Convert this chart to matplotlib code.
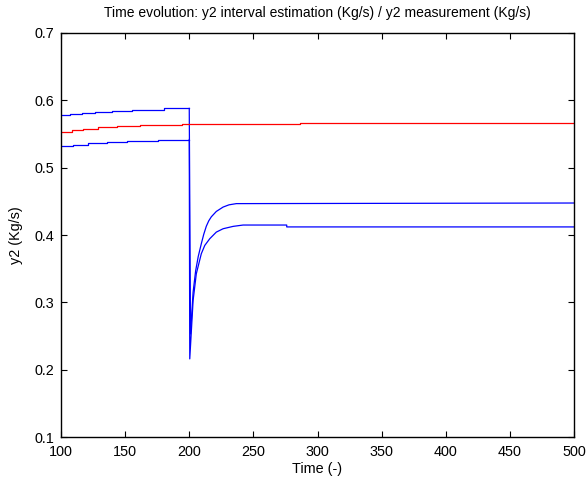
import numpy as np
import matplotlib
matplotlib.use("Agg")
import matplotlib.pyplot as plt

plt.rcParams['font.family'] = ['Liberation Sans', 'DejaVu Sans']

# upper bound of the interval estimation (before the drop: stepped)
upper_step_t = [100, 107, 116, 126.5, 139.5, 155, 180, 200]
upper_step_v = [0.5775, 0.579, 0.581, 0.583, 0.584, 0.586, 0.588, 0.588]
# after the drop at t=200
upper_t = [200, 201, 203, 205, 207, 209.4, 211.3, 213.3, 215.2, 217.2, 221.1, 226.4, 231, 236.7, 500]
upper_v = [0.588, 0.253, 0.315, 0.347, 0.368, 0.387, 0.401, 0.413, 0.421, 0.427, 0.435, 0.4415,
           0.4448, 0.4466, 0.4475]

# lower bound
lower_step_t = [100, 109.6, 121.3, 135.6, 151.2, 175.9, 200]
lower_step_v = [0.5318, 0.5344, 0.5359, 0.5378, 0.5397, 0.5418, 0.5418]
lower_t = [200, 200.4, 203, 205.5, 209.4, 212.1, 216, 221.1, 226.4, 234.2, 242, 276, 276, 500]
lower_v = [0.5418, 0.216, 0.3027, 0.3424, 0.3722, 0.3845, 0.3945, 0.4043, 0.4093, 0.4128,
           0.4148, 0.4148, 0.412, 0.412]

# measurement
meas_t = [100, 108.3, 117.4, 129.1, 143.4, 161.6, 194.2, 286.4, 500]
meas_v = [0.5531, 0.5557, 0.5576, 0.5597, 0.5612, 0.5627, 0.565, 0.5665, 0.5665]

fig = plt.figure(figsize=(5.88, 4.86), dpi=100)
ax = fig.add_axes([61/588, 49/486, 513/588, 404/486])

lw = 0.9
ax.plot(upper_step_t, upper_step_v, color='b', lw=lw, drawstyle='steps-post')
ax.plot(upper_t, upper_v, color='b', lw=lw)
ax.plot(lower_step_t, lower_step_v, color='b', lw=lw, drawstyle='steps-post')
ax.plot(lower_t, lower_v, color='b', lw=lw)
ax.plot(meas_t, meas_v, color='r', lw=lw, drawstyle='steps-post')

ax.set_xlim(100, 500)
ax.set_ylim(0.1, 0.7)
ax.set_xticks(np.arange(100, 501, 50))
ax.set_yticks(np.arange(0.1, 0.71, 0.1))
ax.set_yticklabels([f'{v:.1f}' for v in np.arange(0.1, 0.71, 0.1)])
ax.tick_params(direction='in', top=True, right=True, length=4, width=0.8,
               labelsize=10.4)
ax.tick_params(axis='x', pad=6)
ax.tick_params(axis='y', pad=5)
for s in ax.spines.values():
    s.set_linewidth(1.0)

ax.set_title("Time evolution: y2 interval estimation (Kg/s) / y2 measurement (Kg/s)",
             fontsize=10, pad=11.5)
ax.set_xlabel("Time (-)", fontsize=10.4, labelpad=2)
ax.set_ylabel("y2 (Kg/s)", fontsize=10.4, labelpad=8)

fig.savefig("out.png", dpi=100)
